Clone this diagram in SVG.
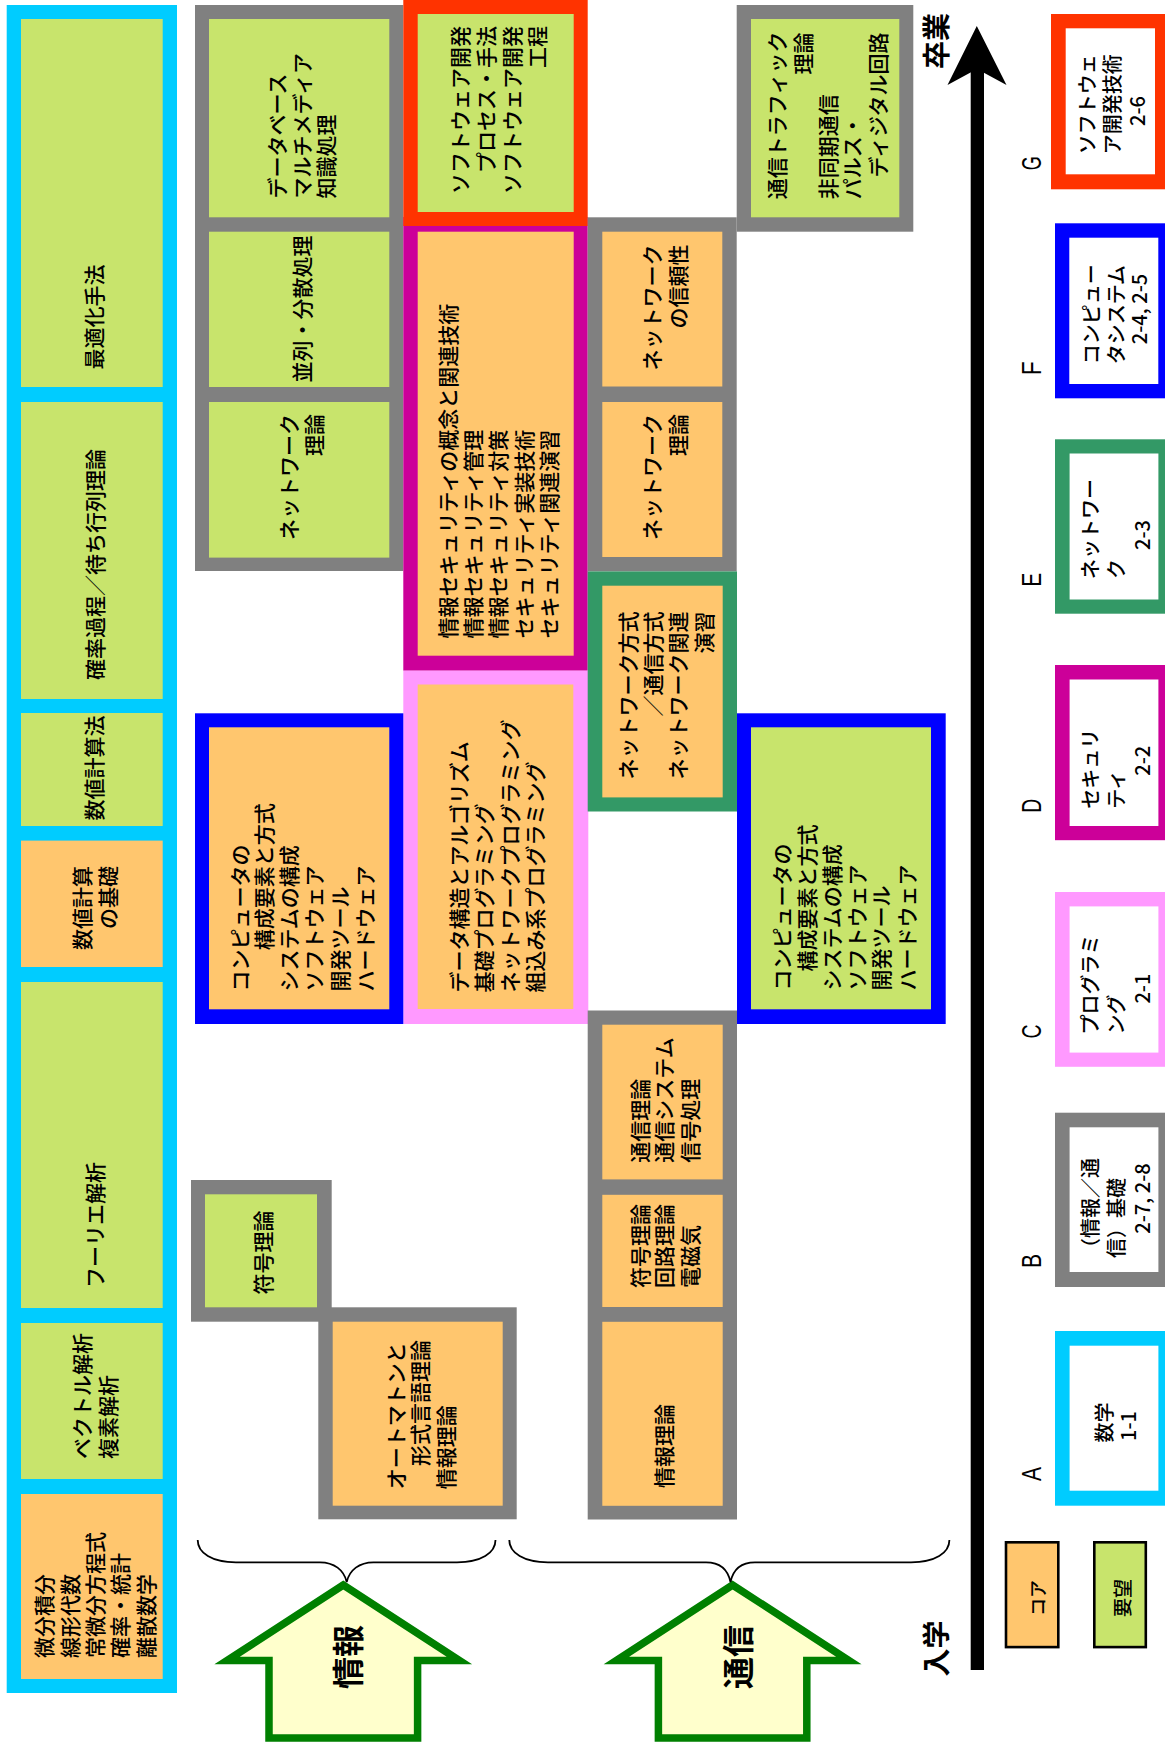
<svg xmlns="http://www.w3.org/2000/svg" width="1165" height="1746" viewBox="0 0 1165 1746">
<style>
.t{font-family:"Noto Sans CJK JP","Noto Sans",sans-serif;font-size:21px;font-weight:500;fill:#000;dominant-baseline:central}
.m{text-anchor:middle}
.e{text-anchor:end}
.lg{font-size:20px}
.ltr{font-family:"Liberation Sans",sans-serif;font-size:28px;text-anchor:middle;dominant-baseline:central}
.b{font-weight:bold}
.g{fill:#C8E46C}
.o{fill:#FFC66E}
.w{fill:#FFFFFF}
.gray{fill:#808080}
.arrow{fill:#FFFFCC;stroke:#008000;stroke-width:7.5;stroke-linejoin:miter}
.brace{fill:none;stroke:#000;stroke-width:1.8}
</style>

<!-- Mathematics column -->
<g id="math">
<rect x="6.7" y="5" width="170.3" height="1688" fill="#00CCFF"/>
<g id="m-opt"><rect class="g" x="21" y="19" width="141.7" height="368"/>
<text class="t m" transform="rotate(-90)" x="-317" y="93">最適化手法</text></g>
<g id="m-prob"><rect class="g" x="21" y="402" width="141.7" height="297"/>
<text class="t m" transform="rotate(-90)" x="-564.5" y="94">確率過程／待ち行列理論</text></g>
<g id="m-num"><rect class="g" x="21" y="713" width="141.7" height="113"/>
<text class="t m" transform="rotate(-90)" x="-768" y="93">数値計算法</text></g>
<g id="m-numbase"><rect class="o" x="21" y="840.6" width="141.7" height="126.4"/>
<text class="t e" transform="rotate(-90)" x="-866" y="81">数値計算</text>
<text class="t e" transform="rotate(-90)" x="-866" y="107">の基礎</text></g>
<g id="m-fourier"><rect class="g" x="21" y="982" width="141.7" height="326"/>
<text class="t m" transform="rotate(-90)" x="-1225" y="94">フーリエ解析</text></g>
<g id="m-vector"><rect class="g" x="21" y="1323" width="141.7" height="156"/>
<text class="t" transform="rotate(-90)" x="-1459" y="81">ベクトル解析</text>
<text class="t" transform="rotate(-90)" x="-1459" y="106.5">複素解析</text></g>
<g id="m-basic"><rect class="o" x="21" y="1494" width="141.7" height="185"/>
<text class="t" transform="rotate(-90)" x="-1658" y="43.3">微分積分</text>
<text class="t" transform="rotate(-90)" x="-1658" y="68.7">線形代数</text>
<text class="t" transform="rotate(-90)" x="-1658" y="93.5">常微分方程式</text>
<text class="t" transform="rotate(-90)" x="-1658" y="119">確率・統計</text>
<text class="t" transform="rotate(-90)" x="-1658" y="144.7">離散数学</text></g>
</g>

<!-- Gray top column 2 -->
<g id="info-adv">
<rect class="gray" x="195" y="5" width="208.3" height="566"/>
<g id="database"><rect class="g" x="209" y="19" width="180.3" height="198.3"/>
<text class="t" transform="rotate(-90)" x="-198.5" y="275.6">データベース</text>
<text class="t" transform="rotate(-90)" x="-198.5" y="301">マルチメディア</text>
<text class="t" transform="rotate(-90)" x="-198.5" y="325.4">知識処理</text></g>
<g id="parallel"><rect class="g" x="209" y="231.7" width="180.3" height="155.3"/>
<text class="t m" transform="rotate(-90)" x="-309" y="301">並列・分散処理</text></g>
<g id="nettheory1"><rect class="g" x="209" y="402" width="180.3" height="155.6"/>
<text class="t e" transform="rotate(-90)" x="-414" y="287.8">ネットワーク</text>
<text class="t e" transform="rotate(-90)" x="-414" y="313.4">理論</text></g>
</g>

<!-- Security (magenta) -->
<g id="security">
<rect x="403.3" y="217" width="184.4" height="453.7" fill="#CC0099"/>
<rect class="o" x="417.7" y="231.7" width="156" height="424"/>
<text class="t" transform="rotate(-90)" x="-638.5" y="446.8">情報セキュリティの概念と関連技術</text>
<text class="t" transform="rotate(-90)" x="-638.5" y="471.8">情報セキュリティ管理</text>
<text class="t" transform="rotate(-90)" x="-638.5" y="497">情報セキュリティ対策</text>
<text class="t" transform="rotate(-90)" x="-638.5" y="522.6">セキュリティ実装技術</text>
<text class="t" transform="rotate(-90)" x="-638.5" y="547.8">セキュリティ関連演習</text>
</g>

<!-- Software dev (red) -->
<g id="swdev">
<rect x="403.3" y="0" width="184.4" height="226" fill="#FF3300"/>
<rect class="g" x="417.7" y="14" width="156" height="198"/>
<text class="t e" transform="rotate(-90)" x="-26" y="459.2">ソフトウェア開発</text>
<text class="t e" transform="rotate(-90)" x="-26" y="485">プロセス・手法</text>
<text class="t e" transform="rotate(-90)" x="-26" y="510.8">ソフトウェア開発</text>
<text class="t e" transform="rotate(-90)" x="-26" y="536.3">工程</text>
</g>

<!-- Programming (pink) -->
<g id="programming">
<rect x="403.3" y="670.7" width="185" height="353.3" fill="#FF99FF"/>
<rect class="o" x="417.7" y="684.5" width="155.6" height="324.5"/>
<text class="t" transform="rotate(-90)" x="-992.5" y="458">データ構造とアルゴリズム</text>
<text class="t" transform="rotate(-90)" x="-992.5" y="483">基礎プログラミング</text>
<text class="t" transform="rotate(-90)" x="-992.5" y="508.8">ネットワークプログラミング</text>
<text class="t" transform="rotate(-90)" x="-992.5" y="534">組込み系プログラミング</text>
</g>

<!-- Computer systems left (blue) -->
<g id="computer1">
<rect x="195" y="713.3" width="208.3" height="310.7" fill="#0000FF"/>
<rect class="o" x="209" y="727.3" width="180.3" height="282"/>
<text class="t" transform="rotate(-90)" x="-991.5" y="239">コンピュータの</text>
<text class="t" transform="rotate(-90)" x="-950.3" y="263.4">構成要素と方式</text>
<text class="t" transform="rotate(-90)" x="-991.5" y="287.8">システムの構成</text>
<text class="t" transform="rotate(-90)" x="-991.5" y="313.4">ソフトウェア</text>
<text class="t" transform="rotate(-90)" x="-991.5" y="338.6">開発ツール</text>
<text class="t" transform="rotate(-90)" x="-991.5" y="364">ハードウェア</text>
</g>

<!-- Gray col4 top -->
<g id="comm-adv">
<rect class="gray" x="587.7" y="217.3" width="149" height="354.1"/>
<rect class="gray" x="736.7" y="5" width="176.6" height="226.7"/>
<g id="netrel"><rect class="o" x="602.3" y="231.7" width="120" height="154.8"/>
<text class="t e" transform="rotate(-90)" x="-244.5" y="651">ネットワーク</text>
<text class="t e" transform="rotate(-90)" x="-244.5" y="677">の信頼性</text></g>
<g id="nettheory2"><rect class="o" x="602.3" y="402" width="120" height="155"/>
<text class="t e" transform="rotate(-90)" x="-414" y="651">ネットワーク</text>
<text class="t e" transform="rotate(-90)" x="-414" y="677">理論</text></g>
<g id="traffic"><rect class="g" x="751" y="19" width="148.3" height="198.3"/>
<text class="t" transform="rotate(-90)" x="-199.2" y="776">通信トラフィック</text>
<text class="t e" transform="rotate(-90)" x="-32.5" y="802">理論</text>
<text class="t" transform="rotate(-90)" x="-199.2" y="827">非同期通信</text>
<text class="t" transform="rotate(-90)" x="-199.2" y="850.5">パルス・</text>
<text class="t e" transform="rotate(-90)" x="-32.5" y="876.7">ディジタル回路</text></g>
</g>

<!-- Network (green) -->
<g id="network">
<rect x="587.7" y="571.4" width="149.3" height="240.1" fill="#339966"/>
<rect class="o" x="602.3" y="585.7" width="120.4" height="211.7"/>
<text class="t e" transform="rotate(-90)" x="-611.5" y="626.6">ネットワーク方式</text>
<text class="t e" transform="rotate(-90)" x="-611.5" y="651.8">／通信方式</text>
<text class="t e" transform="rotate(-90)" x="-611.5" y="677">ネットワーク関連</text>
<text class="t e" transform="rotate(-90)" x="-611.5" y="703">演習</text>
</g>

<!-- Computer systems right (blue) -->
<g id="computer2">
<rect x="737" y="713.3" width="208.7" height="310.7" fill="#0000FF"/>
<rect class="g" x="751" y="727.3" width="180" height="282"/>
<text class="t" transform="rotate(-90)" x="-990.5" y="780.6">コンピュータの</text>
<text class="t" transform="rotate(-90)" x="-971.4" y="805.7">構成要素と方式</text>
<text class="t" transform="rotate(-90)" x="-990.5" y="831">システムの構成</text>
<text class="t" transform="rotate(-90)" x="-990.5" y="856">ソフトウェア</text>
<text class="t" transform="rotate(-90)" x="-990.5" y="880.4">開発ツール</text>
<text class="t" transform="rotate(-90)" x="-990.5" y="905.6">ハードウェア</text>
</g>

<!-- Gray col4 bottom -->
<g id="comm-basic">
<rect class="gray" x="587.7" y="1010.5" width="149.3" height="509"/>
<g id="commtheory"><rect class="o" x="602.3" y="1024.7" width="120.4" height="154.7"/>
<text class="t" transform="rotate(-90)" x="-1162.7" y="638.8">通信理論</text>
<text class="t" transform="rotate(-90)" x="-1162.7" y="663">通信システム</text>
<text class="t" transform="rotate(-90)" x="-1162.7" y="689">信号処理</text></g>
<g id="circuit"><rect class="o" x="602.3" y="1194.8" width="120.4" height="112.2"/>
<text class="t" transform="rotate(-90)" x="-1288" y="638.8">符号理論</text>
<text class="t" transform="rotate(-90)" x="-1288" y="663">回路理論</text>
<text class="t" transform="rotate(-90)" x="-1288" y="689">電磁気</text></g>
<g id="infotheory2"><rect class="o" x="602.3" y="1321.8" width="120.4" height="184"/>
<text class="t m" transform="rotate(-90)" x="-1446" y="663">情報理論</text></g>
</g>

<!-- Coding theory (col2) -->
<g id="coding">
<rect class="gray" x="191" y="1180" width="140.7" height="141.7"/>
<rect class="g" x="205" y="1194.3" width="112" height="113"/>
<text class="t m" transform="rotate(-90)" x="-1252.5" y="261.7">符号理論</text>
</g>

<!-- Automaton -->
<g id="automaton">
<rect class="gray" x="318.3" y="1307.3" width="198.4" height="212"/>
<rect class="o" x="332.7" y="1321.7" width="170" height="184"/>
<text class="t" transform="rotate(-90)" x="-1489.3" y="395">オートマトンと</text>
<text class="t" transform="rotate(-90)" x="-1466" y="419.3">形式言語理論</text>
<text class="t" transform="rotate(-90)" x="-1489.3" y="445">情報理論</text>
</g>

<!-- Block arrows -->
<g id="arrow-info">
<polygon class="arrow" points="343.3,1585 227,1660.5 269,1660.5 269,1738 417.6,1738 417.6,1660.5 459.5,1660.5"/>
<text class="t m b" style="font-size:32px" transform="rotate(-90)" x="-1657" y="346">情報</text>
</g>
<g id="arrow-comm">
<polygon class="arrow" points="732.6,1585 616.3,1660.5 658.4,1660.5 658.4,1738 806.8,1738 806.8,1660.5 848.9,1660.5"/>
<text class="t m b" style="font-size:32px" transform="rotate(-90)" x="-1657" y="736.4">通信</text>
</g>

<!-- Connectors: braces and time axis -->
<g id="connectors">
<path class="brace" d="M197.7,1540 C197.7,1553 212,1562.3 236,1562.3 L320,1562.3 C334,1562.3 344,1570 346.7,1582 C349.4,1570 359.4,1562.3 373.4,1562.3 L457,1562.3 C481,1562.3 495.5,1553 495.5,1540"/>
<path class="brace" d="M509.3,1540 C509.3,1553 524,1562.3 548,1562.3 L706,1562.3 C720,1562.3 728,1570 730.5,1582 C733,1570 741,1562.3 755,1562.3 L911,1562.3 C935,1562.3 949.4,1553 949.4,1540"/>
<rect x="970.7" y="66" width="13.3" height="1604" fill="#000"/>
<polygon points="976.8,26 1006.5,85 977,69 947.5,85" fill="#000"/>
</g>

<g id="label-grad"><text class="t m b" style="font-size:28px" transform="rotate(-90)" x="-41" y="934.5">卒業</text></g>
<g id="label-entry"><text class="t m b" style="font-size:28px" transform="rotate(-90)" x="-1648.6" y="934.5">入学</text></g>

<!-- Legend -->
<g id="legend-G">
<rect x="1051" y="14" width="118" height="175.3" fill="#FF3300"/>
<rect class="w" x="1065.7" y="28.3" width="89.3" height="146"/>
<text class="ltr" transform="rotate(-90)" x="-163.3" y="1031.7" textLength="14" lengthAdjust="spacingAndGlyphs">G</text>
<text class="t lg" transform="rotate(-90)" x="-154.3" y="1086.7">ソフトウェ</text>
<text class="t lg" transform="rotate(-90)" x="-154.3" y="1111.7">ア開発技術</text>
<text class="t lg m" transform="rotate(-90)" x="-111" y="1136.7">2-6</text>
</g>
<g id="legend-F">
<rect x="1055" y="223.3" width="118" height="175" fill="#0000FF"/>
<rect class="w" x="1069.3" y="237.7" width="89" height="146.3"/>
<text class="ltr" transform="rotate(-90)" x="-368.3" y="1031.7" textLength="14" lengthAdjust="spacingAndGlyphs">F</text>
<text class="t lg" transform="rotate(-90)" x="-364.3" y="1090">コンピュー</text>
<text class="t lg" transform="rotate(-90)" x="-364.3" y="1115">タシステム</text>
<text class="t lg m" transform="rotate(-90)" x="-309" y="1138.3">2-4, 2-5</text>
</g>
<g id="legend-E">
<rect x="1055" y="439.3" width="118" height="174.4" fill="#339966"/>
<rect class="w" x="1069.6" y="453.5" width="88.8" height="146"/>
<text class="ltr" transform="rotate(-90)" x="-579.8" y="1031.7" textLength="14" lengthAdjust="spacingAndGlyphs">E</text>
<text class="t lg" transform="rotate(-90)" x="-579" y="1089.4">ネットワー</text>
<text class="t lg" transform="rotate(-90)" x="-579" y="1115">ク</text>
<text class="t lg m" transform="rotate(-90)" x="-535" y="1141">2-3</text>
</g>
<g id="legend-D">
<rect x="1055" y="665" width="118" height="175.2" fill="#CC0099"/>
<rect class="w" x="1069.6" y="679.5" width="88.8" height="146.5"/>
<text class="ltr" transform="rotate(-90)" x="-805.8" y="1031.7" textLength="14" lengthAdjust="spacingAndGlyphs">D</text>
<text class="t lg" transform="rotate(-90)" x="-808.7" y="1089.4">セキュリ</text>
<text class="t lg" transform="rotate(-90)" x="-808.7" y="1115.4">ティ</text>
<text class="t lg m" transform="rotate(-90)" x="-760.8" y="1141.6">2-2</text>
</g>
<g id="legend-C">
<rect x="1055" y="892" width="118" height="174.8" fill="#FF99FF"/>
<rect class="w" x="1069.6" y="906.4" width="88.8" height="146.2"/>
<text class="ltr" transform="rotate(-90)" x="-1031.6" y="1031.7" textLength="14" lengthAdjust="spacingAndGlyphs">C</text>
<text class="t lg" transform="rotate(-90)" x="-1034.5" y="1089.4">プログラミ</text>
<text class="t lg" transform="rotate(-90)" x="-1034.5" y="1115.4">ング</text>
<text class="t lg m" transform="rotate(-90)" x="-988.6" y="1141.6">2-1</text>
</g>
<g id="legend-B">
<rect x="1055" y="1112.7" width="118" height="174.3" fill="#808080"/>
<rect class="w" x="1069.6" y="1127.3" width="88.8" height="144.7"/>
<text class="ltr" transform="rotate(-90)" x="-1261" y="1031.7" textLength="14" lengthAdjust="spacingAndGlyphs">B</text>
<text class="t lg" transform="rotate(-90)" x="-1258" y="1089.4">（情報／通</text>
<text class="t lg" transform="rotate(-90)" x="-1258" y="1115.4">信）基礎</text>
<text class="t lg m" transform="rotate(-90)" x="-1198.5" y="1141.6">2-7, 2-8</text>
</g>
<g id="legend-A">
<rect x="1055" y="1331" width="118" height="174.7" fill="#00CCFF"/>
<rect class="w" x="1069.6" y="1345.7" width="88.8" height="145"/>
<text class="ltr" transform="rotate(-90)" x="-1474" y="1031.7" textLength="14" lengthAdjust="spacingAndGlyphs">A</text>
<text class="t lg m" transform="rotate(-90)" x="-1422.5" y="1103.3">数学</text>
<text class="t lg m" transform="rotate(-90)" x="-1426" y="1127.6">1-1</text>
</g>
<g id="legend-core">
<rect class="o" x="1006" y="1542.3" width="52.3" height="104.8" stroke="#000" stroke-width="2.6"/>
<text class="t m" style="font-size:18px" transform="rotate(-90)" x="-1598" y="1037">コア</text>
</g>
<g id="legend-want">
<rect class="g" x="1094.3" y="1542.3" width="51.5" height="104.8" stroke="#000" stroke-width="2.6"/>
<text class="t m" style="font-size:19px" transform="rotate(-90)" x="-1598" y="1121">要望</text>
</g>
</svg>
